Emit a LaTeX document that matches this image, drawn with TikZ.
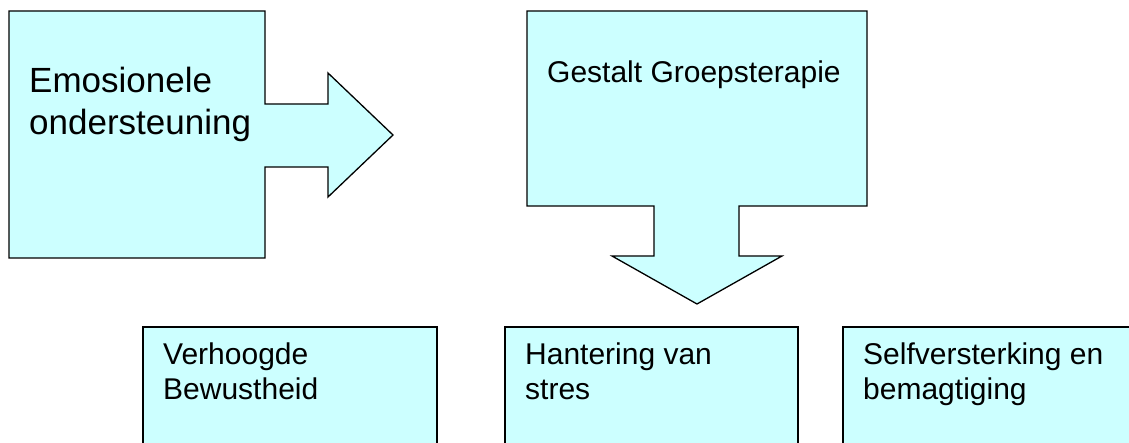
\documentclass[tikz,border=0pt]{standalone}
\usepackage{fontspec}
\setmainfont{Liberation Sans}
\begin{document}
\begin{tikzpicture}[x=1pt,y=-1pt,
  shapebox/.style={draw=black,fill=boxcyan,line width=1.3pt,line join=miter},
  bigtxt/.style={anchor=base west,inner sep=0pt,font=\fontsize{35}{42}\selectfont},
  midtxt/.style={anchor=base west,inner sep=0pt,font=\fontsize{30}{35}\selectfont}]
\definecolor{boxcyan}{HTML}{CCFFFF}
\useasboundingbox (0,0) rectangle (1129,443);
% right arrow callout
\draw[shapebox] (9,11) -- (265,11) -- (265,104) -- (328,104) -- (328,73) -- (393,135)
  -- (328,197) -- (328,167) -- (265,167) -- (265,258) -- (9,258) -- cycle;
\node[bigtxt] (emo1) at (29,93) {Emosionele};
\node[bigtxt] (emo2) at (29,135) {ondersteuning};
% down arrow callout
\draw[shapebox] (527,11) -- (867,11) -- (867,206) -- (739,206) -- (739,256) -- (782,256)
  -- (697,304) -- (612,256) -- (654,256) -- (654,206) -- (527,206) -- cycle;
\node[midtxt] (gest) at (547,83) {Gestalt Groepsterapie};
% bottom boxes
\draw[shapebox] (143,327) rectangle (437,450);
\node[midtxt] (v1) at (163,364) {Verhoogde};
\node[midtxt] (v2) at (163,399) {Bewustheid};
\draw[shapebox] (505,327) rectangle (798,450);
\node[midtxt] (h1) at (525,364) {Hantering van};
\node[midtxt] (h2) at (525,399) {stres};
\draw[shapebox] (843,327) rectangle (1135,450);
\node[midtxt] (s1) at (863,364) {Selfversterking en};
\node[midtxt] (s2) at (863,399) {bemagtiging};
\end{tikzpicture}
\end{document}
